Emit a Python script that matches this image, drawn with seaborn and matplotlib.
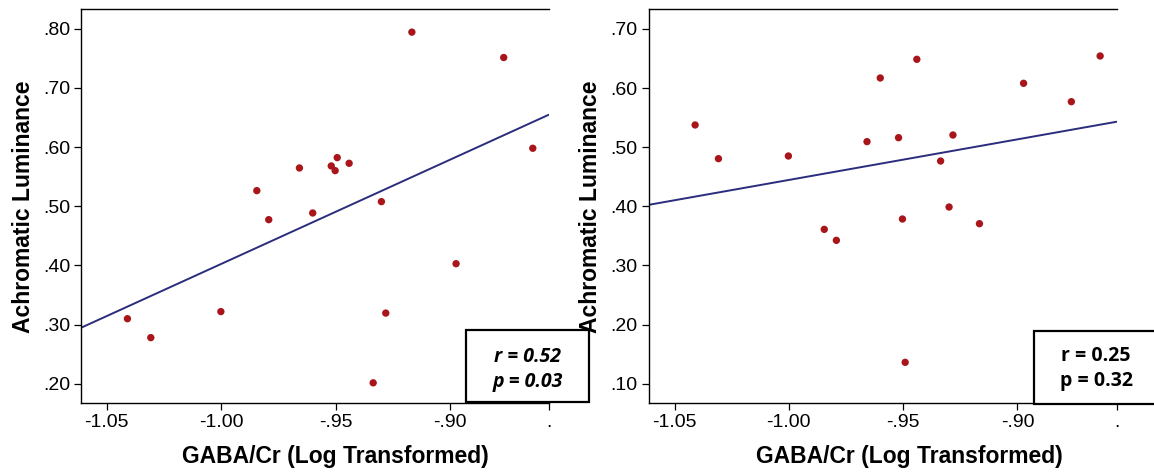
import matplotlib
matplotlib.use("Agg")
import matplotlib.pyplot as plt
import seaborn as sns
import pandas as pd
from matplotlib.patches import Rectangle

# Data
gaba = [-1.0409, -1.0307, -1.0001, -0.9844, -0.9792, -0.9658, -0.9600, -0.9519,
        -0.9493, -0.9502, -0.9441, -0.9300, -0.9281, -0.9336, -0.9167, -0.8974,
        -0.8766, -0.8639]
lum_left = [0.310, 0.278, 0.322, 0.5265, 0.4774, 0.5648, 0.4887, 0.5682,
            0.5823, 0.5603, 0.5727, 0.5079, 0.3195, 0.2016, 0.7944, 0.4030,
            0.7515, 0.5981]
gaba_r = [-1.0410, -1.0308, -1.0002, -0.9845, -0.9792, -0.9658, -0.9600, -0.9520,
          -0.9503, -0.9491, -0.9440, -0.9336, -0.9299, -0.9282, -0.9166, -0.8973,
          -0.8764, -0.8638]
lum_right = [0.5376, 0.4806, 0.4851, 0.3610, 0.3424, 0.5094, 0.6171, 0.5161,
             0.3785, 0.1360, 0.6487, 0.4766, 0.3988, 0.5206, 0.3706, 0.6081,
             0.5770, 0.6543]

xtick_vals = [-1.05, -1.00, -0.95, -0.90]
xtick_labels = ["-1.05", "-1.00", "-.95", "-.90"]
ytick_left = [0.20, 0.30, 0.40, 0.50, 0.60, 0.70, 0.80]
ytick_right = [0.10, 0.20, 0.30, 0.40, 0.50, 0.60, 0.70]
stats_left = ["r = 0.52", "p = 0.03"]
stats_right = ["r = 0.25", "p = 0.32"]

sns.set_style("ticks")
plt.rcParams['font.family'] = ['Liberation Sans', 'DejaVu Sans']
plt.rcParams['text.color'] = 'black'
plt.rcParams['axes.labelcolor'] = 'black'

W, H = 1154, 472
fig = plt.figure(figsize=(W / 100, H / 100), dpi=100)

point_color = "#A8161B"
line_color = "#2B2C7C"

def px_ax(x0, x1, ytop, ybot):
    return [x0 / W, (H - ybot) / H, (x1 - x0) / W, (ybot - ytop) / H]

panels = [
    dict(rect=px_ax(81.4, 548.6, 9.3, 403.3), x=gaba, y=lum_left,
         xlim=(-1.061, -0.857), ylim=(0.167, 0.833), yticks=ytick_left,
         xlab_x=0.543),
    dict(rect=px_ax(648.5, 1116.6, 9.3, 403.3), x=gaba_r, y=lum_right,
         xlim=(-1.0614, -0.8566), ylim=(0.0667, 0.7333), yticks=ytick_right,
         xlab_x=0.5565),
]

for p in panels:
    ax = fig.add_axes(p["rect"])
    ax.set_xlim(*p["xlim"])
    ax.set_ylim(*p["ylim"])
    df = pd.DataFrame({"x": p["x"], "y": p["y"]})
    sns.regplot(data=df, x="x", y="y", ax=ax, ci=None, truncate=False,
                scatter_kws=dict(s=28, color=point_color, edgecolor="none",
                                 alpha=1, zorder=3),
                line_kws=dict(color=line_color, lw=1.4, zorder=2))
    ax.set_xlim(*p["xlim"])
    ax.set_ylim(*p["ylim"])
    ax.set_xticks(xtick_vals + [p["xlim"][1]])
    ax.set_xticklabels(xtick_labels + ["."])
    ax.set_yticks(p["yticks"])
    ax.set_yticklabels(["." + f"{v:.2f}".split(".")[1] for v in p["yticks"]])
    ax.tick_params(axis="both", labelsize=14, length=5, width=0.9, colors="black",
                   labelcolor="black", pad=3)
    for s in ["left", "bottom", "top"]:
        ax.spines[s].set_visible(True)
        ax.spines[s].set_linewidth(1.0)
        ax.spines[s].set_color("black")
    ax.spines["right"].set_visible(False)
    ax.set_xlabel("GABA/Cr (Log Transformed)", fontsize=16.5, fontweight="bold",
                  color="black")
    ax.xaxis.label.set_va("center")
    ax.xaxis.set_label_coords(p["xlab_x"], -(456 - 403.3) / 394.0)
    ax.set_ylabel("Achromatic Luminance", fontsize=16.5, fontweight="bold",
                  labelpad=6, color="black")

# stats boxes (figure coordinates)
def stat_box(x0, x1, ytop, ybot, lines, style, y1, y2):
    fig.patches.append(Rectangle((x0 / W, (H - ybot) / H), (x1 - x0) / W,
                                 (ybot - ytop) / H, transform=fig.transFigure,
                                 fill=True, facecolor="white", edgecolor="black",
                                 lw=1.6, zorder=10))
    cx = (x0 + x1) / 2 / W
    for txt, yy in zip(lines, (y1, y2)):
        fig.text(cx, (H - yy) / H, txt, ha="center", va="center", fontsize=14,
                 fontweight="bold", fontstyle=style, family=["Open Sans", "DejaVu Sans"],
                 color="black", zorder=11)

stat_box(466, 589, 330, 402, stats_left, "italic", 357, 382)
stat_box(1034, 1158, 331, 404, stats_right, "normal", 356, 381)

fig.savefig("out.png", dpi=100)
